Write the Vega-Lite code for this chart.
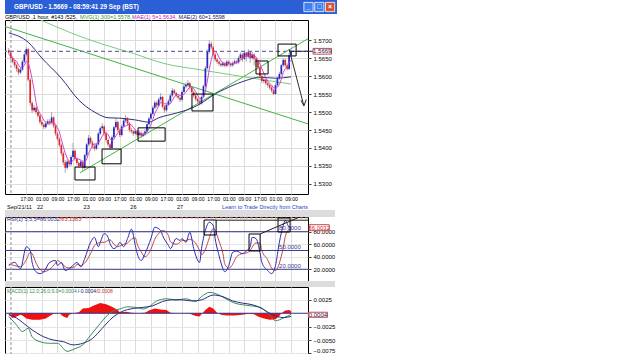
{
"$schema":"https://vega.github.io/schema/vega-lite/v6.json",
"background":"#ffffff",
"padding":{"left":3,"top":0,"right":0,"bottom":0},
"spacing":0,
"bounds":"flush",
"config":{"font":"Liberation Sans","view":{"stroke":null},"text":{"font":"Liberation Sans"},"axis":{"labelFont":"Liberation Sans","labelOverlap":false}},
"datasets":{
"px":[
{"i":0,"o":1.5672,"h":1.5678,"l":1.5660,"c":1.5665,"m":1.5660},
{"i":1,"o":1.5665,"h":1.5668,"l":1.5645,"c":1.5650,"m":1.5655},
{"i":2,"o":1.5650,"h":1.5655,"l":1.5635,"c":1.5640,"m":1.5650},
{"i":3,"o":1.5640,"h":1.5645,"l":1.5624,"c":1.5630,"m":1.5645},
{"i":4,"o":1.5630,"h":1.5634,"l":1.5612,"c":1.5620,"m":1.5641},
{"i":5,"o":1.5620,"h":1.5624,"l":1.5603,"c":1.5610,"m":1.5630},
{"i":6,"o":1.5610,"h":1.5624,"l":1.5606,"c":1.5618,"m":1.5624},
{"i":7,"o":1.5618,"h":1.5645,"l":1.5615,"c":1.5640,"m":1.5624},
{"i":8,"o":1.5640,"h":1.5666,"l":1.5636,"c":1.5660,"m":1.5630},
{"i":9,"o":1.5660,"h":1.5681,"l":1.5655,"c":1.5675,"m":1.5641},
{"i":10,"o":1.5675,"h":1.5678,"l":1.5585,"c":1.5590,"m":1.5637},
{"i":11,"o":1.5590,"h":1.5594,"l":1.5518,"c":1.5525,"m":1.5618},
{"i":12,"o":1.5525,"h":1.5530,"l":1.5498,"c":1.5505,"m":1.5591},
{"i":13,"o":1.5505,"h":1.5520,"l":1.5500,"c":1.5512,"m":1.5561},
{"i":14,"o":1.5512,"h":1.5516,"l":1.5494,"c":1.5500,"m":1.5526},
{"i":15,"o":1.5500,"h":1.5505,"l":1.5484,"c":1.5490,"m":1.5506},
{"i":16,"o":1.5490,"h":1.5494,"l":1.5466,"c":1.5472,"m":1.5496},
{"i":17,"o":1.5472,"h":1.5478,"l":1.5460,"c":1.5465,"m":1.5488},
{"i":18,"o":1.5465,"h":1.5470,"l":1.5452,"c":1.5458,"m":1.5477},
{"i":19,"o":1.5458,"h":1.5474,"l":1.5454,"c":1.5468,"m":1.5471},
{"i":20,"o":1.5468,"h":1.5480,"l":1.5464,"c":1.5474,"m":1.5467},
{"i":21,"o":1.5474,"h":1.5480,"l":1.5464,"c":1.5470,"m":1.5467},
{"i":22,"o":1.5470,"h":1.5500,"l":1.5466,"c":1.5485,"m":1.5471},
{"i":23,"o":1.5485,"h":1.5488,"l":1.5456,"c":1.5462,"m":1.5472},
{"i":24,"o":1.5462,"h":1.5466,"l":1.5434,"c":1.5440,"m":1.5466},
{"i":25,"o":1.5440,"h":1.5445,"l":1.5420,"c":1.5425,"m":1.5456},
{"i":26,"o":1.5425,"h":1.5430,"l":1.5402,"c":1.5408,"m":1.5444},
{"i":27,"o":1.5408,"h":1.5412,"l":1.5378,"c":1.5385,"m":1.5424},
{"i":28,"o":1.5385,"h":1.5390,"l":1.5352,"c":1.5360,"m":1.5404},
{"i":29,"o":1.5360,"h":1.5366,"l":1.5331,"c":1.5345,"m":1.5385},
{"i":30,"o":1.5345,"h":1.5368,"l":1.5340,"c":1.5362,"m":1.5372},
{"i":31,"o":1.5362,"h":1.5366,"l":1.5348,"c":1.5355,"m":1.5361},
{"i":32,"o":1.5355,"h":1.5380,"l":1.5350,"c":1.5375,"m":1.5359},
{"i":33,"o":1.5375,"h":1.5414,"l":1.5370,"c":1.5392,"m":1.5366},
{"i":34,"o":1.5392,"h":1.5396,"l":1.5364,"c":1.5370,"m":1.5371},
{"i":35,"o":1.5370,"h":1.5374,"l":1.5352,"c":1.5358,"m":1.5370},
{"i":36,"o":1.5358,"h":1.5362,"l":1.5344,"c":1.5350,"m":1.5369},
{"i":37,"o":1.5350,"h":1.5368,"l":1.5346,"c":1.5362,"m":1.5366},
{"i":38,"o":1.5362,"h":1.5366,"l":1.5335,"c":1.5345,"m":1.5357},
{"i":39,"o":1.5345,"h":1.5384,"l":1.5340,"c":1.5380,"m":1.5359},
{"i":40,"o":1.5380,"h":1.5414,"l":1.5376,"c":1.5410,"m":1.5369},
{"i":41,"o":1.5410,"h":1.5436,"l":1.5405,"c":1.5428,"m":1.5385},
{"i":42,"o":1.5428,"h":1.5432,"l":1.5410,"c":1.5415,"m":1.5396},
{"i":43,"o":1.5415,"h":1.5420,"l":1.5398,"c":1.5405,"m":1.5408},
{"i":44,"o":1.5405,"h":1.5410,"l":1.5392,"c":1.5398,"m":1.5411},
{"i":45,"o":1.5398,"h":1.5415,"l":1.5394,"c":1.5410,"m":1.5411},
{"i":46,"o":1.5410,"h":1.5445,"l":1.5406,"c":1.5440,"m":1.5414},
{"i":47,"o":1.5440,"h":1.5460,"l":1.5436,"c":1.5455,"m":1.5422},
{"i":48,"o":1.5455,"h":1.5469,"l":1.5450,"c":1.5460,"m":1.5433},
{"i":49,"o":1.5460,"h":1.5464,"l":1.5434,"c":1.5440,"m":1.5441},
{"i":50,"o":1.5440,"h":1.5445,"l":1.5416,"c":1.5422,"m":1.5443},
{"i":51,"o":1.5422,"h":1.5426,"l":1.5404,"c":1.5410,"m":1.5437},
{"i":52,"o":1.5410,"h":1.5414,"l":1.5394,"c":1.5400,"m":1.5426},
{"i":53,"o":1.5400,"h":1.5435,"l":1.5396,"c":1.5430,"m":1.5420},
{"i":54,"o":1.5430,"h":1.5462,"l":1.5426,"c":1.5458,"m":1.5424},
{"i":55,"o":1.5458,"h":1.5483,"l":1.5454,"c":1.5472,"m":1.5434},
{"i":56,"o":1.5472,"h":1.5476,"l":1.5444,"c":1.5450,"m":1.5442},
{"i":57,"o":1.5450,"h":1.5455,"l":1.5430,"c":1.5436,"m":1.5449},
{"i":58,"o":1.5436,"h":1.5465,"l":1.5432,"c":1.5460,"m":1.5455},
{"i":59,"o":1.5460,"h":1.5482,"l":1.5456,"c":1.5476,"m":1.5459},
{"i":60,"o":1.5476,"h":1.5492,"l":1.5470,"c":1.5482,"m":1.5461},
{"i":61,"o":1.5482,"h":1.5486,"l":1.5462,"c":1.5468,"m":1.5464},
{"i":62,"o":1.5468,"h":1.5472,"l":1.5444,"c":1.5450,"m":1.5467},
{"i":63,"o":1.5450,"h":1.5456,"l":1.5440,"c":1.5446,"m":1.5464},
{"i":64,"o":1.5446,"h":1.5450,"l":1.5434,"c":1.5440,"m":1.5457},
{"i":65,"o":1.5440,"h":1.5452,"l":1.5436,"c":1.5447,"m":1.5450},
{"i":66,"o":1.5447,"h":1.5450,"l":1.5430,"c":1.5436,"m":1.5444},
{"i":67,"o":1.5436,"h":1.5448,"l":1.5432,"c":1.5442,"m":1.5442},
{"i":68,"o":1.5442,"h":1.5446,"l":1.5428,"c":1.5434,"m":1.5440},
{"i":69,"o":1.5434,"h":1.5444,"l":1.5430,"c":1.5438,"m":1.5439},
{"i":70,"o":1.5438,"h":1.5452,"l":1.5434,"c":1.5446,"m":1.5439},
{"i":71,"o":1.5446,"h":1.5470,"l":1.5442,"c":1.5466,"m":1.5445},
{"i":72,"o":1.5466,"h":1.5487,"l":1.5462,"c":1.5482,"m":1.5453},
{"i":73,"o":1.5482,"h":1.5500,"l":1.5478,"c":1.5495,"m":1.5465},
{"i":74,"o":1.5495,"h":1.5518,"l":1.5490,"c":1.5512,"m":1.5480},
{"i":75,"o":1.5512,"h":1.5532,"l":1.5508,"c":1.5526,"m":1.5496},
{"i":76,"o":1.5526,"h":1.5530,"l":1.5512,"c":1.5518,"m":1.5507},
{"i":77,"o":1.5518,"h":1.5540,"l":1.5514,"c":1.5535,"m":1.5517},
{"i":78,"o":1.5535,"h":1.5553,"l":1.5530,"c":1.5542,"m":1.5527},
{"i":79,"o":1.5542,"h":1.5545,"l":1.5510,"c":1.5515,"m":1.5527},
{"i":80,"o":1.5515,"h":1.5520,"l":1.5498,"c":1.5505,"m":1.5523},
{"i":81,"o":1.5505,"h":1.5525,"l":1.5500,"c":1.5520,"m":1.5523},
{"i":82,"o":1.5520,"h":1.5536,"l":1.5516,"c":1.5530,"m":1.5522},
{"i":83,"o":1.5530,"h":1.5552,"l":1.5526,"c":1.5546,"m":1.5523},
{"i":84,"o":1.5546,"h":1.5567,"l":1.5542,"c":1.5560,"m":1.5532},
{"i":85,"o":1.5560,"h":1.5564,"l":1.5548,"c":1.5553,"m":1.5542},
{"i":86,"o":1.5553,"h":1.5557,"l":1.5540,"c":1.5545,"m":1.5547},
{"i":87,"o":1.5545,"h":1.5550,"l":1.5535,"c":1.5540,"m":1.5549},
{"i":88,"o":1.5540,"h":1.5544,"l":1.5528,"c":1.5534,"m":1.5546},
{"i":89,"o":1.5534,"h":1.5560,"l":1.5530,"c":1.5556,"m":1.5546},
{"i":90,"o":1.5556,"h":1.5578,"l":1.5552,"c":1.5571,"m":1.5549},
{"i":91,"o":1.5571,"h":1.5582,"l":1.5566,"c":1.5575,"m":1.5555},
{"i":92,"o":1.5575,"h":1.5589,"l":1.5570,"c":1.5580,"m":1.5563},
{"i":93,"o":1.5580,"h":1.5584,"l":1.5562,"c":1.5568,"m":1.5570},
{"i":94,"o":1.5568,"h":1.5572,"l":1.5550,"c":1.5555,"m":1.5570},
{"i":95,"o":1.5555,"h":1.5560,"l":1.5540,"c":1.5546,"m":1.5565},
{"i":96,"o":1.5546,"h":1.5550,"l":1.5530,"c":1.5536,"m":1.5557},
{"i":97,"o":1.5536,"h":1.5540,"l":1.5524,"c":1.5530,"m":1.5547},
{"i":98,"o":1.5530,"h":1.5535,"l":1.5518,"c":1.5524,"m":1.5538},
{"i":99,"o":1.5524,"h":1.5546,"l":1.5520,"c":1.5542,"m":1.5536},
{"i":100,"o":1.5542,"h":1.5576,"l":1.5538,"c":1.5572,"m":1.5541},
{"i":101,"o":1.5572,"h":1.5628,"l":1.5568,"c":1.5622,"m":1.5558},
{"i":102,"o":1.5622,"h":1.5674,"l":1.5618,"c":1.5668,"m":1.5586},
{"i":103,"o":1.5668,"h":1.5700,"l":1.5662,"c":1.5690,"m":1.5619},
{"i":104,"o":1.5690,"h":1.5696,"l":1.5674,"c":1.5680,"m":1.5646},
{"i":105,"o":1.5680,"h":1.5684,"l":1.5654,"c":1.5660,"m":1.5664},
{"i":106,"o":1.5660,"h":1.5664,"l":1.5640,"c":1.5646,"m":1.5669},
{"i":107,"o":1.5646,"h":1.5650,"l":1.5634,"c":1.5640,"m":1.5663},
{"i":108,"o":1.5640,"h":1.5644,"l":1.5628,"c":1.5634,"m":1.5652},
{"i":109,"o":1.5634,"h":1.5638,"l":1.5625,"c":1.5630,"m":1.5642},
{"i":110,"o":1.5630,"h":1.5641,"l":1.5626,"c":1.5636,"m":1.5637},
{"i":111,"o":1.5636,"h":1.5640,"l":1.5624,"c":1.5629,"m":1.5634},
{"i":112,"o":1.5629,"h":1.5645,"l":1.5625,"c":1.5640,"m":1.5634},
{"i":113,"o":1.5640,"h":1.5644,"l":1.5629,"c":1.5634,"m":1.5634},
{"i":114,"o":1.5634,"h":1.5638,"l":1.5625,"c":1.5630,"m":1.5634},
{"i":115,"o":1.5630,"h":1.5641,"l":1.5626,"c":1.5636,"m":1.5634},
{"i":116,"o":1.5636,"h":1.5646,"l":1.5632,"c":1.5641,"m":1.5636},
{"i":117,"o":1.5641,"h":1.5645,"l":1.5633,"c":1.5638,"m":1.5636},
{"i":118,"o":1.5638,"h":1.5655,"l":1.5634,"c":1.5650,"m":1.5639},
{"i":119,"o":1.5650,"h":1.5666,"l":1.5646,"c":1.5660,"m":1.5645},
{"i":120,"o":1.5660,"h":1.5664,"l":1.5640,"c":1.5648,"m":1.5647},
{"i":121,"o":1.5648,"h":1.5672,"l":1.5644,"c":1.5665,"m":1.5652},
{"i":122,"o":1.5665,"h":1.5668,"l":1.5640,"c":1.5654,"m":1.5655},
{"i":123,"o":1.5654,"h":1.5675,"l":1.5650,"c":1.5666,"m":1.5659},
{"i":124,"o":1.5666,"h":1.5670,"l":1.5636,"c":1.5650,"m":1.5657},
{"i":125,"o":1.5650,"h":1.5668,"l":1.5645,"c":1.5660,"m":1.5659},
{"i":126,"o":1.5660,"h":1.5664,"l":1.5630,"c":1.5648,"m":1.5656},
{"i":127,"o":1.5648,"h":1.5652,"l":1.5625,"c":1.5640,"m":1.5653},
{"i":128,"o":1.5640,"h":1.5644,"l":1.5618,"c":1.5624,"m":1.5644},
{"i":129,"o":1.5624,"h":1.5628,"l":1.5594,"c":1.5600,"m":1.5634},
{"i":130,"o":1.5600,"h":1.5604,"l":1.5580,"c":1.5586,"m":1.5620},
{"i":131,"o":1.5586,"h":1.5596,"l":1.5580,"c":1.5590,"m":1.5608},
{"i":132,"o":1.5590,"h":1.5594,"l":1.5574,"c":1.5580,"m":1.5596},
{"i":133,"o":1.5580,"h":1.5584,"l":1.5568,"c":1.5575,"m":1.5586},
{"i":134,"o":1.5575,"h":1.5578,"l":1.5562,"c":1.5568,"m":1.5580},
{"i":135,"o":1.5568,"h":1.5572,"l":1.5554,"c":1.5560,"m":1.5575},
{"i":136,"o":1.5560,"h":1.5564,"l":1.5547,"c":1.5550,"m":1.5567},
{"i":137,"o":1.5550,"h":1.5580,"l":1.5548,"c":1.5575,"m":1.5566},
{"i":138,"o":1.5575,"h":1.5598,"l":1.5570,"c":1.5594,"m":1.5569},
{"i":139,"o":1.5594,"h":1.5612,"l":1.5590,"c":1.5606,"m":1.5577},
{"i":140,"o":1.5606,"h":1.5634,"l":1.5602,"c":1.5630,"m":1.5591},
{"i":141,"o":1.5630,"h":1.5650,"l":1.5626,"c":1.5645,"m":1.5610},
{"i":142,"o":1.5645,"h":1.5648,"l":1.5624,"c":1.5630,"m":1.5621},
{"i":143,"o":1.5630,"h":1.5636,"l":1.5615,"c":1.5620,"m":1.5626},
{"i":144,"o":1.5620,"h":1.5664,"l":1.5616,"c":1.5658,"m":1.5637},
{"i":145,"o":1.5658,"h":1.5672,"l":1.5654,"c":1.5669,"m":1.5644}
],
"ma60":[{"i":0,"p":1.5720},{"i":10,"p":1.5694},{"i":17,"p":1.5650},{"i":27,"p":1.5594},{"i":36,"p":1.5533},{"i":40,"p":1.5514},{"i":45,"p":1.5497},{"i":51,"p":1.5484},{"i":57,"p":1.5483},{"i":65,"p":1.5478},{"i":72,"p":1.5472},{"i":77,"p":1.5484},{"i":86,"p":1.5497},{"i":94,"p":1.5511},{"i":99,"p":1.5525},{"i":105,"p":1.5547},{"i":113,"p":1.5569},{"i":122,"p":1.5588},{"i":129,"p":1.5597},{"i":137,"p":1.5594},{"i":145,"p":1.5598}],
"mvg":[{"i":-1.95,"p":1.5800},{"i":16.4,"p":1.5756},{"i":32,"p":1.5720},{"i":48,"p":1.5689},{"i":64,"p":1.5663},{"i":79,"p":1.5636},{"i":99,"p":1.5617},{"i":115,"p":1.5603},{"i":130,"p":1.5590},{"i":145,"p":1.5578}],
"trend":[{"id":"d","i":-1.95,"p":1.5738},{"id":"d","i":153.7,"p":1.5467},{"id":"u","i":36.6,"p":1.5331},{"id":"u","i":153.7,"p":1.5704}],
"boxes":[{"i1":34.0,"i2":44.3,"p1":1.5311,"p2":1.5347},{"i1":47.9,"i2":57.7,"p1":1.5356,"p2":1.5397},{"i1":66.4,"i2":80.3,"p1":1.5419,"p2":1.5456},{"i1":94.1,"i2":104.9,"p1":1.5503,"p2":1.5550},{"i1":127.0,"i2":133.2,"p1":1.5606,"p2":1.5642},{"i1":138.3,"i2":147.6,"p1":1.5656,"p2":1.5689}],
"arrow":[{"seg":"a","k":0,"i":144.0,"p":1.5675},{"seg":"a","k":1,"i":151.6,"p":1.5517},{"seg":"b","k":0,"i":150.1,"p":1.5533},{"seg":"b","k":1,"i":151.6,"p":1.5517},{"seg":"c","k":0,"i":152.8,"p":1.5535},{"seg":"c","k":1,"i":151.6,"p":1.5517}],
"days":[{"i":16,"t":"22"},{"i":40,"t":"23"},{"i":64,"t":"26"},{"i":88,"t":"27"}],
"rsi":[{"i":0,"r":26,"s":28},{"i":3,"r":31,"s":26},{"i":6,"r":21,"s":24},{"i":9,"r":56,"s":35},{"i":11,"r":50,"s":47},{"i":12,"r":31,"s":45},{"i":14,"r":16,"s":30},{"i":16,"r":13,"s":20},{"i":18,"r":16,"s":16},{"i":21,"r":31,"s":20},{"i":24,"r":34,"s":30},{"i":25,"r":26,"s":34},{"i":27,"r":31,"s":30},{"i":29,"r":18,"s":24},{"i":31,"r":21,"s":22},{"i":34,"r":29,"s":24},{"i":35,"r":31,"s":28},{"i":37,"r":24,"s":26},{"i":39,"r":37,"s":30},{"i":42,"r":63,"s":45},{"i":44,"r":71,"s":58},{"i":46,"r":56,"s":62},{"i":47,"r":63,"s":63},{"i":49,"r":77,"s":63},{"i":51,"r":71,"s":66},{"i":52,"r":61,"s":67},{"i":54,"r":53,"s":60},{"i":56,"r":58,"s":56},{"i":57,"r":63,"s":57},{"i":59,"r":56,"s":60},{"i":61,"r":69,"s":62},{"i":63,"r":84,"s":68},{"i":65,"r":58,"s":70},{"i":66,"r":45,"s":60},{"i":68,"r":34,"s":48},{"i":70,"r":45,"s":40},{"i":73,"r":69,"s":52},{"i":75,"r":87,"s":68},{"i":78,"r":82,"s":80},{"i":79,"r":74,"s":82},{"i":82,"r":58,"s":74},{"i":83,"r":53,"s":64},{"i":86,"r":69,"s":60},{"i":88,"r":66,"s":63},{"i":89,"r":69,"s":66},{"i":91,"r":63,"s":66},{"i":93,"r":79,"s":68},{"i":95,"r":53,"s":65},{"i":98,"r":31,"s":50},{"i":99,"r":53,"s":43},{"i":101,"r":82,"s":52},{"i":103,"r":95,"s":70},{"i":105,"r":90,"s":85},{"i":106,"r":69,"s":82},{"i":108,"r":42,"s":65},{"i":110,"r":21,"s":45},{"i":111,"r":16,"s":28},{"i":113,"r":26,"s":22},{"i":115,"r":47,"s":28},{"i":117,"r":49,"s":40},{"i":120,"r":45,"s":45},{"i":122,"r":49,"s":46},{"i":124,"r":56,"s":50},{"i":125,"r":71,"s":55},{"i":127,"r":69,"s":62},{"i":129,"r":47,"s":62},{"i":130,"r":31,"s":50},{"i":133,"r":18,"s":35},{"i":135,"r":13,"s":22},{"i":137,"r":26,"s":18},{"i":139,"r":63,"s":30},{"i":141,"r":90,"s":55},{"i":142,"r":98,"s":72},{"i":144,"r":87,"s":83},{"i":145,"r":86,"s":83}],
"lv":[{"v":20},{"v":50},{"v":80}],
"rbox":[{"i1":100.3,"i2":106.5,"v1":74.7,"v2":98.6},{"i1":123.4,"i2":129.1,"v1":49.2,"v2":76.3},{"i1":138.3,"i2":144.5,"v1":79.5,"v2":101.8}],
"rline":[{"seg":"h","i":106.5,"v":98.3},{"seg":"h","i":153.7,"v":98.3},{"seg":"d","i":129.1,"v":76.3},{"seg":"d","i":149.1,"v":103}],
"macd":[{"s":"m","i":0,"v":-0.0006},{"s":"m","i":4,"v":-0.0022},{"s":"m","i":7,"v":-0.0034},{"s":"m","i":10,"v":-0.0028},{"s":"m","i":12,"v":-0.0044},{"s":"m","i":16,"v":-0.0053},{"s":"m","i":21,"v":-0.0056},{"s":"m","i":25,"v":-0.0056},{"s":"m","i":30,"v":-0.0071},{"s":"m","i":34,"v":-0.0066},{"s":"m","i":38,"v":-0.0059},{"s":"m","i":42,"v":-0.0041},{"s":"m","i":47,"v":-0.0019},{"s":"m","i":50,"v":-0.0006},{"s":"m","i":53,"v":0.0003},{"s":"m","i":57,"v":0.0008},{"s":"m","i":61,"v":0.0012},{"s":"m","i":65,"v":0.0011},{"s":"m","i":69,"v":0.0008},{"s":"m","i":72,"v":0.0012},{"s":"m","i":76,"v":0.0023},{"s":"m","i":81,"v":0.0027},{"s":"m","i":86,"v":0.0025},{"s":"m","i":91,"v":0.0027},{"s":"m","i":96,"v":0.0022},{"s":"m","i":99,"v":0.0031},{"s":"m","i":103,"v":0.0039},{"s":"m","i":106,"v":0.0037},{"s":"m","i":111,"v":0.0028},{"s":"m","i":116,"v":0.0019},{"s":"m","i":124,"v":0.0014},{"s":"m","i":129,"v":0.0011},{"s":"m","i":134,"v":-0.0003},{"s":"m","i":137,"v":-0.0014},{"s":"m","i":141,"v":-0.0009},{"s":"m","i":145,"v":-0.0002},
{"s":"g","i":0,"v":-0.0003},{"s":"g","i":4,"v":-0.0009},{"s":"g","i":7,"v":-0.0017},{"s":"g","i":12,"v":-0.0031},{"s":"g","i":18,"v":-0.0044},{"s":"g","i":23,"v":-0.0050},{"s":"g","i":28,"v":-0.0053},{"s":"g","i":33,"v":-0.0059},{"s":"g","i":38,"v":-0.0056},{"s":"g","i":43,"v":-0.0047},{"s":"g","i":48,"v":-0.0028},{"s":"g","i":53,"v":-0.0009},{"s":"g","i":58,"v":0.0003},{"s":"g","i":64,"v":0.0009},{"s":"g","i":69,"v":0.0011},{"s":"g","i":74,"v":0.0014},{"s":"g","i":79,"v":0.0022},{"s":"g","i":84,"v":0.0025},{"s":"g","i":89,"v":0.0025},{"s":"g","i":94,"v":0.0023},{"s":"g","i":99,"v":0.0025},{"s":"g","i":105,"v":0.0034},{"s":"g","i":110,"v":0.0031},{"s":"g","i":115,"v":0.0023},{"s":"g","i":120,"v":0.0019},{"s":"g","i":125,"v":0.0016},{"s":"g","i":130,"v":0.0009},{"s":"g","i":135,"v":-0.0002},{"s":"g","i":141,"v":-0.0008},{"s":"g","i":145,"v":-0.0006}],
"hist":[{"i":0,"v":-0.0002},{"i":2,"v":-0.0009},{"i":4,"v":-0.0006},{"i":6,"v":-0.0003},{"i":7,"v":-0.0004},{"i":9,"v":-0.0010},{"i":12,"v":-0.0012},{"i":16,"v":-0.0012},{"i":19,"v":-0.0010},{"i":21,"v":-0.0005},{"i":23,"v":-0.0001},{"i":26,"v":0.0},{"i":28,"v":-0.0006},{"i":30,"v":-0.0009},{"i":31,"v":-0.0003},{"i":33,"v":0.0},{"i":36,"v":0.0002},{"i":38,"v":0.0009},{"i":41,"v":0.0010},{"i":44,"v":0.0015},{"i":47,"v":0.0019},{"i":50,"v":0.0017},{"i":53,"v":0.0012},{"i":56,"v":0.0006},{"i":57,"v":0.0002},{"i":60,"v":0.0003},{"i":63,"v":0.0001},{"i":66,"v":0.0},{"i":70,"v":0.0001},{"i":72,"v":0.0005},{"i":75,"v":0.0009},{"i":78,"v":0.0007},{"i":81,"v":0.0006},{"i":83,"v":0.0001},{"i":86,"v":0.0},{"i":90,"v":0.0},{"i":93,"v":-0.0001},{"i":96,"v":-0.0005},{"i":98,"v":-0.0006},{"i":99,"v":-0.0002},{"i":101,"v":0.0006},{"i":103,"v":0.0012},{"i":105,"v":0.0009},{"i":107,"v":0.0001},{"i":109,"v":-0.0003},{"i":112,"v":-0.0004},{"i":116,"v":-0.0004},{"i":120,"v":-0.0003},{"i":123,"v":-0.0001},{"i":126,"v":-0.0002},{"i":128,"v":-0.0006},{"i":131,"v":-0.0010},{"i":134,"v":-0.0012},{"i":137,"v":-0.0011},{"i":139,"v":-0.0005},{"i":140,"v":0.0},{"i":142,"v":0.0005},{"i":144,"v":0.0006},{"i":145,"v":0.0004}],
"btn":[{"b":"min","s":1,"g":"_"},{"b":"max","s":2,"g":"□"},{"b":"close","s":3,"g":"×"}]
},
"vconcat":[
{
 "width":332,"height":14,
 "view":{"fill":"#2a5fd6","stroke":null},
 "title":{"text":"GBP/USD - 1.5669 - 08:59:41  29 Sep (BST)","anchor":"start","offset":-10,"dx":9,"color":"#ffffff","fontSize":6.3,"fontWeight":"bold","font":"Liberation Sans"},
 "data":{"name":"btn"},
 "layer":[
  {"mark":{"type":"point","shape":"square","filled":true,"size":85,"stroke":"#ffffff","strokeWidth":0.8,"opacity":1},
   "encoding":{"x":{"field":"s","type":"quantitative","scale":{"domain":[-27.1,3.64],"nice":false,"zero":false},"axis":null},
   "color":{"field":"b","type":"nominal","scale":{"domain":["min","max","close"],"range":["#3f7ff0","#3f7ff0","#d9532e"]},"legend":null}}},
  {"mark":{"type":"text","color":"#ffffff","fontSize":7,"fontWeight":"bold","baseline":"middle"},
   "encoding":{"x":{"field":"s","type":"quantitative","scale":{"domain":[-27.1,3.64],"nice":false,"zero":false},"axis":null},"text":{"field":"g"}}}
 ]
},
{
 "width":303,"height":6,
 "view":{"stroke":null},
 "data":{"values":[{}]},
 "layer":[
  {"mark":{"type":"text","fontSize":5.5,"color":"#000000","align":"left","baseline":"middle"},
   "encoding":{"x":{"datum":-1.95,"type":"quantitative","scale":{"domain":[-1.95,153.7],"nice":false,"zero":false},"axis":null},"text":{"value":"GBP/USD ,1 hour, #143 /525,"}}},
  {"mark":{"type":"text","fontSize":5.5,"color":"#2ea02e","align":"left","baseline":"middle"},
   "encoding":{"x":{"datum":36.6,"type":"quantitative","scale":{"domain":[-1.95,153.7],"nice":false,"zero":false},"axis":null},"text":{"value":"MVG(1) 300=1.5578,"}}},
  {"mark":{"type":"text","fontSize":5.5,"color":"#c020c0","align":"left","baseline":"middle"},
   "encoding":{"x":{"datum":63.3,"type":"quantitative","scale":{"domain":[-1.95,153.7],"nice":false,"zero":false},"axis":null},"text":{"value":"MAE(1) 5=1.5634,"}}},
  {"mark":{"type":"text","fontSize":5.5,"color":"#202070","align":"left","baseline":"middle"},
   "encoding":{"x":{"datum":87.2,"type":"quantitative","scale":{"domain":[-1.95,153.7],"nice":false,"zero":false},"axis":null},"text":{"value":"MAE(2) 60=1.5598"}}}
 ]
},
{
 "width":303,"height":174,
 "view":{"stroke":"#000000","strokeWidth":1},
 "resolve":{"axis":{"x":"independent","y":"independent"}},
 "layer":[
  {"data":{"name":"px"},"mark":{"type":"rule","color":"#a8a8a8","strokeWidth":1},
   "encoding":{"x":{"field":"i","type":"quantitative","scale":{"domain":[-1.95,153.7],"nice":false,"zero":false},
     "axis":{"orient":"bottom","values":[9,17,25,33,41,49,57,65,73,81,89,97,105,113,121,129,137,145],"labelExpr":"['17:00','01:00','09:00'][((datum.value - 9) / 8) % 3]","grid":true,"gridColor":"#dcdcdc","ticks":false,"domain":false,"labelFontSize":5.1,"labelColor":"#000000","labelPadding":2.5,"title":null,"labelOverlap":false,"labelFlush":false}},
    "y":{"field":"l","type":"quantitative","scale":{"domain":[1.5272,1.5756],"nice":false,"zero":false},
     "axis":{"orient":"right","values":[1.53,1.535,1.54,1.545,1.55,1.555,1.56,1.565,1.57],"format":".4f","grid":true,"gridColor":"#dcdcdc","ticks":true,"tickSize":3,"tickColor":"#404040","domain":false,"labelFontSize":6,"labelColor":"#000000","labelPadding":2,"title":null,"labelOverlap":false,"labelFlush":false}},
    "y2":{"field":"h"}}},
  {"data":{"values":[{}]},"mark":{"type":"rule","color":"#a0a0a0","strokeDash":[3,2],"strokeWidth":1.2},
   "encoding":{"x":{"datum":1.1,"type":"quantitative","scale":{"domain":[-1.95,153.7],"nice":false,"zero":false},"axis":null}}},
  {"data":{"name":"mvg"},"mark":{"type":"line","color":"#7ccc7c","strokeWidth":1,"clip":true,"interpolate":"monotone"},
   "encoding":{"x":{"field":"i","type":"quantitative","scale":{"domain":[-1.95,153.7],"nice":false,"zero":false},"axis":null},
    "y":{"field":"p","type":"quantitative","scale":{"domain":[1.5272,1.5756],"nice":false,"zero":false},"axis":null}}},
  {"data":{"name":"trend"},"mark":{"type":"line","color":"#44b444","strokeWidth":1,"clip":true},
   "encoding":{"x":{"field":"i","type":"quantitative","scale":{"domain":[-1.95,153.7],"nice":false,"zero":false},"axis":null},
    "y":{"field":"p","type":"quantitative","scale":{"domain":[1.5272,1.5756],"nice":false,"zero":false},"axis":null},
    "detail":{"field":"id"}}},
  {"data":{"name":"ma60"},"mark":{"type":"line","color":"#2e2e7a","strokeWidth":1,"interpolate":"monotone"},
   "encoding":{"x":{"field":"i","type":"quantitative","scale":{"domain":[-1.95,153.7],"nice":false,"zero":false},"axis":null},
    "y":{"field":"p","type":"quantitative","scale":{"domain":[1.5272,1.5756],"nice":false,"zero":false},"axis":null}}},
  {"data":{"values":[{}]},"mark":{"type":"rule","color":"#7070b0","strokeDash":[4,3],"strokeWidth":1.2},
   "encoding":{"y":{"datum":1.5669,"type":"quantitative","scale":{"domain":[1.5272,1.5756],"nice":false,"zero":false},"axis":null}}},
  {"data":{"name":"px"},"mark":{"type":"rule","strokeWidth":1.7},
   "encoding":{"x":{"field":"i","type":"quantitative","scale":{"domain":[-1.95,153.7],"nice":false,"zero":false},"axis":null},
    "y":{"field":"o","type":"quantitative","scale":{"domain":[1.5272,1.5756],"nice":false,"zero":false},"axis":null},
    "y2":{"field":"c"},
    "color":{"condition":{"test":"datum.c >= datum.o","value":"#2424c8"},"value":"#e42424"}}},
  {"data":{"name":"px"},"mark":{"type":"line","color":"#d048d0","strokeWidth":1},
   "encoding":{"x":{"field":"i","type":"quantitative","scale":{"domain":[-1.95,153.7],"nice":false,"zero":false},"axis":null},
    "y":{"field":"m","type":"quantitative","scale":{"domain":[1.5272,1.5756],"nice":false,"zero":false},"axis":null}}},
  {"data":{"name":"boxes"},"mark":{"type":"rect","fill":"#ffffff","fillOpacity":0,"stroke":"#000000","strokeWidth":1},
   "encoding":{"x":{"field":"i1","type":"quantitative","scale":{"domain":[-1.95,153.7],"nice":false,"zero":false},"axis":null},"x2":{"field":"i2"},
    "y":{"field":"p1","type":"quantitative","scale":{"domain":[1.5272,1.5756],"nice":false,"zero":false},"axis":null},"y2":{"field":"p2"}}},
  {"data":{"name":"arrow"},"mark":{"type":"line","color":"#303030","strokeWidth":1},
   "encoding":{"x":{"field":"i","type":"quantitative","scale":{"domain":[-1.95,153.7],"nice":false,"zero":false},"axis":null},
    "y":{"field":"p","type":"quantitative","scale":{"domain":[1.5272,1.5756],"nice":false,"zero":false},"axis":null},
    "detail":{"field":"seg"},"order":{"field":"k"}}},
  {"data":{"values":[{}]},"mark":{"type":"rule","color":"#20205a","strokeWidth":1},
   "encoding":{"x":{"datum":144,"type":"quantitative","scale":{"domain":[-1.95,153.7],"nice":false,"zero":false},"axis":null},"x2":{"datum":156.3},
    "y":{"datum":1.5669,"type":"quantitative","scale":{"domain":[1.5272,1.5756],"nice":false,"zero":false},"axis":null}}},
  {"data":{"values":[{}]},"mark":{"type":"rect","fill":"#ffffff","stroke":"#c84848","strokeWidth":1},
   "encoding":{"x":{"datum":156.3,"type":"quantitative","scale":{"domain":[-1.95,153.7],"nice":false,"zero":false},"axis":null},"x2":{"datum":165.8},
    "y":{"datum":1.5677,"type":"quantitative","scale":{"domain":[1.5272,1.5756],"nice":false,"zero":false},"axis":null},"y2":{"datum":1.5661}}},
  {"data":{"values":[{}]},"mark":{"type":"text","fontSize":6,"color":"#20206a","align":"center","baseline":"middle"},
   "encoding":{"x":{"datum":161,"type":"quantitative","scale":{"domain":[-1.95,153.7],"nice":false,"zero":false},"axis":null},
    "y":{"datum":1.5669,"type":"quantitative","scale":{"domain":[1.5272,1.5756],"nice":false,"zero":false},"axis":null},"text":{"value":"1.5669"}}}
 ]
},
{
 "width":303,"height":16,
 "view":{"stroke":null},
 "layer":[
  {"data":{"name":"days"},"mark":{"type":"text","fontSize":5.5,"color":"#000000","align":"center","baseline":"middle","dy":5},
   "encoding":{"x":{"field":"i","type":"quantitative","scale":{"domain":[-1.95,153.7],"nice":false,"zero":false},"axis":null},"text":{"field":"t"}}},
  {"data":{"values":[{}]},"mark":{"type":"text","fontSize":5.5,"color":"#000000","align":"left","baseline":"middle","dy":5},
   "encoding":{"x":{"datum":-0.9,"type":"quantitative","scale":{"domain":[-1.95,153.7],"nice":false,"zero":false},"axis":null},"text":{"value":"Sep/21/11"}}},
  {"data":{"values":[{}]},"mark":{"type":"text","fontSize":5.5,"color":"#2a3fc0","align":"right","baseline":"middle","dy":5},
   "encoding":{"x":{"datum":153.7,"type":"quantitative","scale":{"domain":[-1.95,153.7],"nice":false,"zero":false},"axis":null},"text":{"value":"Learn to Trade Directly from Charts"}}}
 ]
},
{
 "width":330,"height":7,
 "view":{"fill":"#dcdcdc","stroke":null},
 "data":{"values":[{}]},
 "mark":{"type":"text","text":""},
 "encoding":{"text":{"value":""}}
},
{
 "width":303,"height":64,
 "view":{"stroke":"#000000","strokeWidth":1},
 "resolve":{"axis":{"x":"independent","y":"independent"}},
 "layer":[
  {"data":{"name":"rsi"},"mark":{"type":"line","color":"#c04848","strokeWidth":1,"interpolate":"monotone"},
   "encoding":{"x":{"field":"i","type":"quantitative","scale":{"domain":[-1.95,153.7],"nice":false,"zero":false},
     "axis":{"orient":"bottom","values":[9,17,25,33,41,49,57,65,73,81,89,97,105,113,121,129,137,145],"labels":false,"grid":true,"gridColor":"#dcdcdc","ticks":false,"domain":false,"title":null}},
    "y":{"field":"s","type":"quantitative","scale":{"domain":[1.3,103.4],"nice":false,"zero":false},
     "axis":{"orient":"right","values":[20,40,60,80],"format":".4f","grid":true,"gridColor":"#e4e4e4","ticks":true,"tickSize":3,"tickColor":"#404040","domain":false,"labelFontSize":6,"labelColor":"#000000","labelPadding":2,"title":null,"labelOverlap":false,"labelFlush":false}}}},
  {"data":{"name":"lv"},"mark":{"type":"rule","color":"#3a3a90","strokeWidth":1},
   "encoding":{"y":{"field":"v","type":"quantitative","scale":{"domain":[1.3,103.4],"nice":false,"zero":false},"axis":null}}},
  {"data":{"name":"rsi"},"mark":{"type":"line","color":"#2c2cb0","strokeWidth":1,"interpolate":"monotone"},
   "encoding":{"x":{"field":"i","type":"quantitative","scale":{"domain":[-1.95,153.7],"nice":false,"zero":false},"axis":null},
    "y":{"field":"r","type":"quantitative","scale":{"domain":[1.3,103.4],"nice":false,"zero":false},"axis":null}}},
  {"data":{"values":[{}]},"mark":{"type":"rule","color":"#a0a0a0","strokeDash":[3,2],"strokeWidth":1.2},
   "encoding":{"x":{"datum":1.1,"type":"quantitative","scale":{"domain":[-1.95,153.7],"nice":false,"zero":false},"axis":null}}},
  {"data":{"values":[{}]},"mark":{"type":"rule","color":"#d06a6a","strokeDash":[3,2],"strokeWidth":1},
   "encoding":{"y":{"datum":102,"type":"quantitative","scale":{"domain":[1.3,103.4],"nice":false,"zero":false},"axis":null}}},
  {"data":{"name":"rbox"},"mark":{"type":"rect","fill":"#ffffff","fillOpacity":0,"stroke":"#000000","strokeWidth":1},
   "encoding":{"x":{"field":"i1","type":"quantitative","scale":{"domain":[-1.95,153.7],"nice":false,"zero":false},"axis":null},"x2":{"field":"i2"},
    "y":{"field":"v1","type":"quantitative","scale":{"domain":[1.3,103.4],"nice":false,"zero":false},"axis":null},"y2":{"field":"v2"}}},
  {"data":{"name":"rline"},"mark":{"type":"line","color":"#202020","strokeWidth":1},
   "encoding":{"x":{"field":"i","type":"quantitative","scale":{"domain":[-1.95,153.7],"nice":false,"zero":false},"axis":null},
    "y":{"field":"v","type":"quantitative","scale":{"domain":[1.3,103.4],"nice":false,"zero":false},"axis":null},"detail":{"field":"seg"}}},
  {"data":{"name":"lv"},"mark":{"type":"text","fontSize":6,"color":"#3a3a90","align":"right","baseline":"bottom","dy":-0.5},
   "encoding":{"x":{"datum":150,"type":"quantitative","scale":{"domain":[-1.95,153.7],"nice":false,"zero":false},"axis":null},
    "y":{"field":"v","type":"quantitative","scale":{"domain":[1.3,103.4],"nice":false,"zero":false},"axis":null},"text":{"field":"v","format":".4f"}}},
  {"data":{"values":[{}]},"mark":{"type":"text","fontSize":5.5,"color":"#2c2c90","align":"left","baseline":"middle"},
   "encoding":{"x":{"datum":-0.9,"type":"quantitative","scale":{"domain":[-1.95,153.7],"nice":false,"zero":false},"axis":null},
    "y":{"datum":99.5,"type":"quantitative","scale":{"domain":[1.3,103.4],"nice":false,"zero":false},"axis":null},"text":{"value":"RSI(1) 5,5,5=86.0032"}}},
  {"data":{"values":[{}]},"mark":{"type":"text","fontSize":5.5,"color":"#c03030","align":"left","baseline":"middle"},
   "encoding":{"x":{"datum":26.2,"type":"quantitative","scale":{"domain":[-1.95,153.7],"nice":false,"zero":false},"axis":null},
    "y":{"datum":99.5,"type":"quantitative","scale":{"domain":[1.3,103.4],"nice":false,"zero":false},"axis":null},"text":{"value":"/83.1383"}}},
  {"data":{"values":[{}]},"mark":{"type":"rect","fill":"#ffffff","stroke":"#c84848","strokeWidth":1},
   "encoding":{"x":{"datum":154.3,"type":"quantitative","scale":{"domain":[-1.95,153.7],"nice":false,"zero":false},"axis":null},"x2":{"datum":164.6},
    "y":{"datum":91.1,"type":"quantitative","scale":{"domain":[1.3,103.4],"nice":false,"zero":false},"axis":null},"y2":{"datum":81.6}}},
  {"data":{"values":[{}]},"mark":{"type":"text","fontSize":6,"color":"#c03030","align":"center","baseline":"middle"},
   "encoding":{"x":{"datum":159.45,"type":"quantitative","scale":{"domain":[-1.95,153.7],"nice":false,"zero":false},"axis":null},
    "y":{"datum":86.3,"type":"quantitative","scale":{"domain":[1.3,103.4],"nice":false,"zero":false},"axis":null},"text":{"value":"86.0032"}}}
 ]
},
{
 "width":330,"height":6,
 "view":{"fill":"#dcdcdc","stroke":null},
 "data":{"values":[{}]},
 "mark":{"type":"text","text":""},
 "encoding":{"text":{"value":""}}
},
{
 "width":303,"height":67,
 "view":{"stroke":"#000000","strokeWidth":1},
 "resolve":{"axis":{"x":"independent","y":"independent"}},
 "layer":[
  {"data":{"name":"hist"},"mark":{"type":"area","color":"#ee1111","opacity":1},
   "encoding":{"x":{"field":"i","type":"quantitative","scale":{"domain":[-1.95,153.7],"nice":false,"zero":false},
     "axis":{"orient":"bottom","values":[9,17,25,33,41,49,57,65,73,81,89,97,105,113,121,129,137,145],"labels":false,"grid":true,"gridColor":"#dcdcdc","ticks":false,"domain":false,"title":null}},
    "y":{"field":"v","type":"quantitative","scale":{"domain":[-0.0076,0.0049],"nice":false,"zero":false},
     "axis":{"orient":"right","values":[0.0025,-0.0025,-0.005,-0.0075],"format":".4f","grid":true,"gridColor":"#e4e4e4","ticks":true,"tickSize":3,"tickColor":"#404040","domain":false,"labelFontSize":6,"labelColor":"#000000","labelPadding":2,"title":null,"labelOverlap":false,"labelFlush":3}},
    "y2":{"datum":0}}},
  {"data":{"values":[{}]},"mark":{"type":"rule","color":"#a0a0a0","strokeDash":[3,2],"strokeWidth":1.2},
   "encoding":{"x":{"datum":1.1,"type":"quantitative","scale":{"domain":[-1.95,153.7],"nice":false,"zero":false},"axis":null}}},
  {"data":{"values":[{}]},"mark":{"type":"rule","color":"#30308a","strokeWidth":1.2},
   "encoding":{"y":{"datum":0,"type":"quantitative","scale":{"domain":[-0.0076,0.0049],"nice":false,"zero":false},"axis":null}}},
  {"data":{"name":"macd"},"transform":[{"filter":"datum.s == 'm'"}],"mark":{"type":"line","strokeWidth":1,"color":"#3a8a5a","interpolate":"monotone"},
   "encoding":{"x":{"field":"i","type":"quantitative","scale":{"domain":[-1.95,153.7],"nice":false,"zero":false},"axis":null},
    "y":{"field":"v","type":"quantitative","scale":{"domain":[-0.0076,0.0049],"nice":false,"zero":false},"axis":null}}},
  {"data":{"name":"macd"},"transform":[{"filter":"datum.s == 'g'"}],"mark":{"type":"line","strokeWidth":1,"color":"#2a2a80","interpolate":"monotone"},
   "encoding":{"x":{"field":"i","type":"quantitative","scale":{"domain":[-1.95,153.7],"nice":false,"zero":false},"axis":null},
    "y":{"field":"v","type":"quantitative","scale":{"domain":[-0.0076,0.0049],"nice":false,"zero":false},"axis":null}}},
  {"data":{"values":[{}]},"mark":{"type":"text","fontSize":5,"color":"#2e9050","align":"left","baseline":"middle"},
   "encoding":{"x":{"datum":-0.9,"type":"quantitative","scale":{"domain":[-1.95,153.7],"nice":false,"zero":false},"axis":null},
    "y":{"datum":0.0042,"type":"quantitative","scale":{"domain":[-0.0076,0.0049],"nice":false,"zero":false},"axis":null},"text":{"value":"MACD(1) 12.0;26.0;9.0=0.0004"}}},
  {"data":{"values":[{}]},"mark":{"type":"text","fontSize":5,"color":"#202070","align":"left","baseline":"middle"},
   "encoding":{"x":{"datum":35.4,"type":"quantitative","scale":{"domain":[-1.95,153.7],"nice":false,"zero":false},"axis":null},
    "y":{"datum":0.0042,"type":"quantitative","scale":{"domain":[-0.0076,0.0049],"nice":false,"zero":false},"axis":null},"text":{"value":"/-0.0004"}}},
  {"data":{"values":[{}]},"mark":{"type":"text","fontSize":5,"color":"#c03030","align":"left","baseline":"middle"},
   "encoding":{"x":{"datum":44.9,"type":"quantitative","scale":{"domain":[-1.95,153.7],"nice":false,"zero":false},"axis":null},
    "y":{"datum":0.0042,"type":"quantitative","scale":{"domain":[-0.0076,0.0049],"nice":false,"zero":false},"axis":null},"text":{"value":"/0.0008"}}},
  {"data":{"values":[{}]},"mark":{"type":"rect","fill":"#ffffff","stroke":"#c84848","strokeWidth":1},
   "encoding":{"x":{"datum":153.9,"type":"quantitative","scale":{"domain":[-1.95,153.7],"nice":false,"zero":false},"axis":null},"x2":{"datum":163.7},
    "y":{"datum":0.00019,"type":"quantitative","scale":{"domain":[-0.0076,0.0049],"nice":false,"zero":false},"axis":null},"y2":{"datum":-0.00075}}},
  {"data":{"values":[{}]},"mark":{"type":"text","fontSize":6,"color":"#20206a","align":"center","baseline":"middle"},
   "encoding":{"x":{"datum":158.8,"type":"quantitative","scale":{"domain":[-1.95,153.7],"nice":false,"zero":false},"axis":null},
    "y":{"datum":-0.00028,"type":"quantitative","scale":{"domain":[-0.0076,0.0049],"nice":false,"zero":false},"axis":null},"text":{"value":"0.0004"}}}
 ]
}
]
}
